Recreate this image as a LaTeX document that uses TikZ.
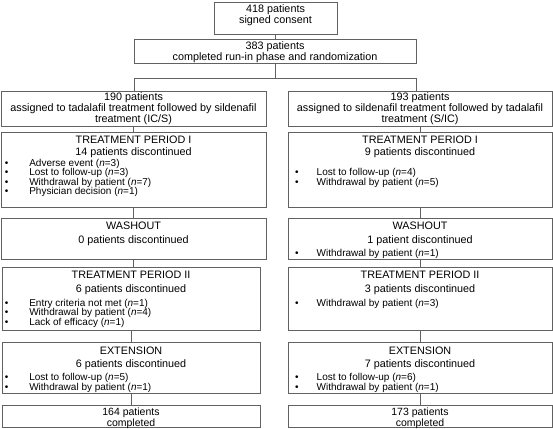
\documentclass[tikz,border=0pt]{standalone}
\usepackage{fontspec}
\setmainfont{Liberation Sans}
\usepackage{tikz}

\newcommand{\dotitem}[2]{\makebox[#1][l]{\textbullet}#2}

\begin{document}
\begin{tikzpicture}[y=1pt, x=1pt, yscale=-1, inner sep=0pt, outer sep=0pt,
  box/.style={draw=black!62, line width=0.75pt, anchor=north west},
  line/.style={draw=black!62, line width=0.75pt},
  txt/.style={anchor=base, font=\fontsize{10.8}{12}\selectfont},
  itm/.style={anchor=base west, font=\fontsize{10}{11}\selectfont}]

  \useasboundingbox (0,0) rectangle (553,428);

  % top boxes
  \path (214,2) node[box, minimum width=123, minimum height=32] (rect418) {};
  \path (134,39) node[box, minimum width=282, minimum height=24] (rect383) {};
  \path (275.5,13) node[txt] (text418) {418 patients};
  \path (275.5,24) node[txt] (text418b) {signed consent};
  \path (275,49) node[txt] (text383) {383 patients};
  \path (275,60) node[txt] (text383b) {completed run-in phase and randomization};

  % left column
  \path (1,91) node[box, minimum width=265, minimum height=35] (rect190) {};
  \path (1,132) node[box, minimum width=265, minimum height=75] (rectTPIa) {};
  \path (1,218) node[box, minimum width=265, minimum height=41] (rectWashA) {};
  \path (2,267) node[box, minimum width=258, minimum height=63] (rectTPIIa) {};
  \path (2,342) node[box, minimum width=258, minimum height=51] (rectExtA) {};
  \path (2,405) node[box, minimum width=258, minimum height=22.5] (rect164) {};

  \path (133.5,100.5) node[txt] (text190) {190 patients};
  \path (133.5,111.5) node[txt] (text190b) {assigned to tadalafil treatment followed by sildenafil};
  \path (133.5,122.5) node[txt] (text190c) {treatment (IC/S)};

  \path (133.5,143.5) node[txt] (textTPIa) {TREATMENT PERIOD I};
  \path (133.5,155.5) node[txt] (textTPIa2) {14 patients discontinued};
  \path (5,166) node[itm] (itemA1) {\dotitem{24.3pt}{Adverse event (\textit{n}=3)}};
  \path (5,175.6) node[itm] (itemA2) {\dotitem{24.3pt}{Lost to follow-up (\textit{n}=3)}};
  \path (5,185.2) node[itm] (itemA3) {\dotitem{24.3pt}{Withdrawal by patient (\textit{n}=7)}};
  \path (5,194.8) node[itm] (itemA4) {\dotitem{24.3pt}{Physician decision (\textit{n}=1)}};

  \path (133.5,229) node[txt] (textWashA) {WASHOUT};
  \path (133.5,243.3) node[txt] (textWashA2) {0 patients discontinued};

  \path (131,278.3) node[txt] (textTPIIa) {TREATMENT PERIOD II};
  \path (131,292.3) node[txt] (textTPIIa2) {6 patients discontinued};
  \path (5,306.3) node[itm] (itemA5) {\dotitem{24.3pt}{Entry criteria not met (\textit{n}=1)}};
  \path (5,315.9) node[itm] (itemA6) {\dotitem{24.3pt}{Withdrawal by patient (\textit{n}=4)}};
  \path (5,325.5) node[itm] (itemA7) {\dotitem{24.3pt}{Lack of efficacy (\textit{n}=1)}};

  \path (131,354) node[txt] (textExtA) {EXTENSION};
  \path (131,367.3) node[txt] (textExtA2) {6 patients discontinued};
  \path (5,380.5) node[itm] (itemA8) {\dotitem{24.3pt}{Lost to follow-up (\textit{n}=5)}};
  \path (5,390) node[itm] (itemA9) {\dotitem{24.3pt}{Withdrawal by patient (\textit{n}=1)}};

  \path (131,415.5) node[txt, font=\fontsize{10.5}{12}\selectfont] (text164) {164 patients};
  \path (131,426) node[txt, font=\fontsize{10.5}{12}\selectfont] (text164b) {completed};

  % right column
  \path (288,91) node[box, minimum width=264, minimum height=35] (rect193) {};
  \path (288,132) node[box, minimum width=264, minimum height=75] (rectTPIb) {};
  \path (288,218) node[box, minimum width=264, minimum height=41] (rectWashB) {};
  \path (288,267) node[box, minimum width=264, minimum height=63] (rectTPIIb) {};
  \path (288,342) node[box, minimum width=264, minimum height=51] (rectExtB) {};
  \path (288,405) node[box, minimum width=264, minimum height=22.5] (rect173) {};

  \path (420,100.5) node[txt] (text193) {193 patients};
  \path (420,111.5) node[txt] (text193b) {assigned to sildenafil treatment followed by tadalafil};
  \path (420,122.5) node[txt] (text193c) {treatment (S/IC)};

  \path (420,143.5) node[txt] (textTPIb) {TREATMENT PERIOD I};
  \path (420,155.5) node[txt] (textTPIb2) {9 patients discontinued};
  \path (295,175.6) node[itm] (itemB1) {\dotitem{21.7pt}{Lost to follow-up (\textit{n}=4)}};
  \path (295,185.2) node[itm] (itemB2) {\dotitem{21.7pt}{Withdrawal by patient (\textit{n}=5)}};

  \path (420,229) node[txt] (textWashB) {WASHOUT};
  \path (420,243.3) node[txt] (textWashB2) {1 patient discontinued};
  \path (295,256.5) node[itm] (itemB3) {\dotitem{21.7pt}{Withdrawal by patient (\textit{n}=1)}};

  \path (420,278.3) node[txt] (textTPIIb) {TREATMENT PERIOD II};
  \path (420,292.3) node[txt] (textTPIIb2) {3 patients discontinued};
  \path (295,306.3) node[itm] (itemB4) {\dotitem{21.7pt}{Withdrawal by patient (\textit{n}=3)}};

  \path (420,354) node[txt] (textExtB) {EXTENSION};
  \path (420,367.3) node[txt] (textExtB2) {7 patients discontinued};
  \path (295,380.5) node[itm] (itemB5) {\dotitem{21.7pt}{Lost to follow-up (\textit{n}=6)}};
  \path (295,390) node[itm] (itemB6) {\dotitem{21.7pt}{Withdrawal by patient (\textit{n}=1)}};

  \path (420,415.5) node[txt, font=\fontsize{10.5}{12}\selectfont] (text173) {173 patients};
  \path (420,426) node[txt, font=\fontsize{10.5}{12}\selectfont] (text173b) {completed};

  % connectors
  \coordinate (splitL) at (134,78);
  \coordinate (splitR) at (416,78);
  \path[line] (rect418.south) -- (rect418.south |- rect383.north);
  \path[line] (rect383.south) -- (rect383.south |- splitL);
  \path[line] (splitL |- rect190.north) -- (splitL) -- (splitR) -- (splitR |- rect193.north);

  \path[line] (rect190.south) -- (rect190.south |- rectTPIa.north);
  \path[line] (rectTPIa.south) -- (rectTPIa.south |- rectWashA.north);
  \path[line] (rectWashA.south) -- (rectWashA.south |- rectTPIIa.north);
  \path[line] (rectTPIIa.south) -- (rectTPIIa.south |- rectExtA.north);
  \path[line] (rectExtA.south) -- (rectExtA.south |- rect164.north);

  \path[line] (rect193.south) -- (rect193.south |- rectTPIb.north);
  \path[line] (rectTPIb.south) -- (rectTPIb.south |- rectWashB.north);
  \path[line] (rectWashB.south) -- (rectWashB.south |- rectTPIIb.north);
  \path[line] (rectTPIIb.south) -- (rectTPIIb.south |- rectExtB.north);
  \path[line] (rectExtB.south) -- (rectExtB.south |- rect173.north);

\end{tikzpicture}
\end{document}
